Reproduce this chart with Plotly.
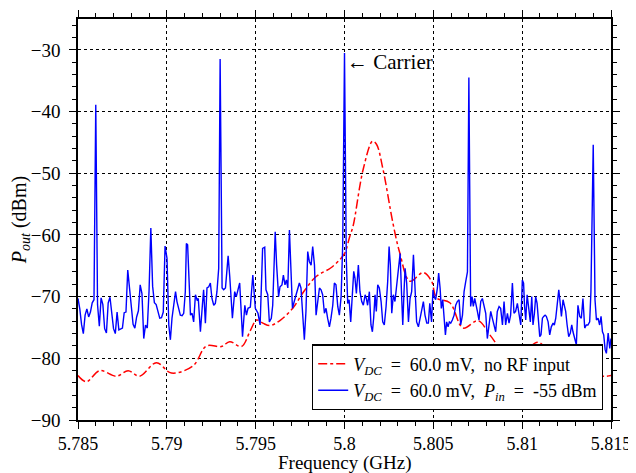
import plotly.graph_objects as go

# ---------------- data ----------------
# Red: V_DC = 60.0 mV, no RF input (frequency in MHz, power in dBm)
red_mhz = [5785.0, 5785.47, 5786.22, 5787.16, 5787.82, 5788.47, 5789.41, 5790.26, 5791.48,
           5792.23, 5793.07, 5793.54, 5794.2, 5794.7, 5795.05, 5795.4, 5795.8, 5796.4,
           5797.11, 5797.7, 5798.42, 5799.2, 5799.74, 5800.02, 5800.3, 5800.48, 5801.05,
           5801.58, 5801.8, 5802.17, 5802.74, 5803.11, 5803.68, 5804.43, 5804.9, 5805.18,
           5805.93, 5806.68, 5807.52, 5808.18, 5808.93, 5809.68, 5810.9, 5811.67, 5812.22,
           5812.69, 5813.53, 5814.56, 5815.0]
red_dbm = [-82.8, -83.8, -82.0, -82.9, -82.0, -82.9, -80.7, -82.4, -81.2,
           -78.0, -78.1, -77.3, -78.1, -75.5, -73.8, -74.3, -74.7, -73.8,
           -71.8, -69.2, -66.7, -65.4, -64.0, -62.9, -60.2, -58.6, -49.4,
           -44.8, -45.3, -49.4, -58.3, -62.9, -67.5, -66.1, -67.5, -70.2,
           -71.0, -75.1, -73.9, -76.2, -78.9, -79.9, -77.4, -79.6, -79.7,
           -81.0, -82.0, -82.9, -82.8]

# Blue: V_DC = 60.0 mV, P_in = -55 dBm (frequency in MHz, power in dBm)
blue_mhz = [5785.0, 5785.1, 5785.2, 5785.3, 5785.4, 5785.5, 5785.6, 5785.7, 5785.8, 5785.9,
            5786.0, 5786.1, 5786.2, 5786.3, 5786.4, 5786.5, 5786.6, 5786.7, 5786.8, 5786.9,
            5787.0, 5787.1, 5787.2, 5787.3, 5787.4, 5787.5, 5787.6, 5787.7, 5787.8, 5787.9,
            5788.0, 5788.1, 5788.2, 5788.3, 5788.4, 5788.5, 5788.6, 5788.7, 5788.8, 5788.9,
            5789.0, 5789.1, 5789.2, 5789.3, 5789.4, 5789.5, 5789.6, 5789.7, 5789.8, 5789.9,
            5790.01, 5790.11, 5790.2, 5790.29, 5790.39, 5790.49, 5790.57, 5790.67, 5790.76, 5790.86,
            5790.95, 5791.04, 5791.1, 5791.17, 5791.25, 5791.33, 5791.42, 5791.51, 5791.61, 5791.7,
            5791.77, 5791.89, 5792.0, 5792.07, 5792.17, 5792.26, 5792.36, 5792.45, 5792.54, 5792.64,
            5792.73, 5792.82, 5792.92, 5793.0, 5793.11, 5793.2, 5793.3, 5793.45, 5793.54, 5793.69,
            5793.82, 5793.91, 5794.1, 5794.26, 5794.39, 5794.48, 5794.57, 5794.7, 5794.84, 5794.98,
            5795.13, 5795.25, 5795.39, 5795.51, 5795.58, 5795.68, 5795.77, 5795.88, 5795.96, 5796.1,
            5796.18, 5796.29, 5796.37, 5796.48, 5796.56, 5796.65, 5796.73, 5796.81, 5796.9, 5796.99,
            5797.07, 5797.17, 5797.27, 5797.36, 5797.46, 5797.55, 5797.65, 5797.74, 5797.83, 5797.93,
            5798.02, 5798.12, 5798.21, 5798.31, 5798.4, 5798.49, 5798.59, 5798.68, 5798.77, 5798.87,
            5798.96, 5799.05, 5799.15, 5799.24, 5799.34, 5799.43, 5799.52, 5799.62, 5799.71, 5799.81,
            5799.9, 5800.0, 5800.1, 5800.18, 5800.26, 5800.35, 5800.44, 5800.52, 5800.59, 5800.67,
            5800.78, 5800.87, 5800.97, 5801.06, 5801.16, 5801.23, 5801.3, 5801.4, 5801.49, 5801.57,
            5801.64, 5801.72, 5801.79, 5801.87, 5801.96, 5802.06, 5802.15, 5802.24, 5802.34, 5802.43,
            5802.51, 5802.58, 5802.66, 5802.75, 5802.84, 5802.94, 5803.03, 5803.13, 5803.22, 5803.28,
            5803.35, 5803.41, 5803.5, 5803.6, 5803.69, 5803.78, 5803.88, 5803.97, 5804.06, 5804.16,
            5804.25, 5804.35, 5804.44, 5804.53, 5804.63, 5804.72, 5804.8, 5804.9, 5804.98, 5805.04,
            5805.13, 5805.23, 5805.3, 5805.38, 5805.45, 5805.53, 5805.6, 5805.68, 5805.75, 5805.83,
            5805.9, 5805.98, 5806.07, 5806.17, 5806.26, 5806.35, 5806.45, 5806.54, 5806.64, 5806.73,
            5806.82, 5806.92, 5807.0, 5807.1, 5807.18, 5807.25, 5807.33, 5807.4, 5807.48, 5807.57,
            5807.67, 5807.76, 5807.85, 5807.95, 5808.04, 5808.14, 5808.23, 5808.32, 5808.42, 5808.51,
            5808.6, 5808.7, 5808.79, 5808.89, 5808.98, 5809.07, 5809.17, 5809.26, 5809.35, 5809.45,
            5809.54, 5809.63, 5809.73, 5809.82, 5809.92, 5810.01, 5810.08, 5810.13, 5810.2, 5810.28,
            5810.37, 5810.46, 5810.54, 5810.61, 5810.69, 5810.76, 5810.84, 5810.91, 5810.99, 5811.06,
            5811.14, 5811.21, 5811.29, 5811.36, 5811.46, 5811.55, 5811.64, 5811.74, 5811.81, 5811.89,
            5811.98, 5812.06, 5812.13, 5812.21, 5812.3, 5812.38, 5812.45, 5812.53, 5812.62, 5812.71,
            5812.79, 5812.86, 5812.96, 5813.05, 5813.14, 5813.24, 5813.33, 5813.42, 5813.52, 5813.61,
            5813.7, 5813.8, 5813.87, 5814.0, 5814.1, 5814.18, 5814.27, 5814.36, 5814.44, 5814.52,
            5814.59, 5814.67, 5814.74, 5814.84, 5814.93, 5815.0]
blue_dbm = [-70.3, -72.0, -74.5, -76.0, -73.0, -72.0, -73.3, -72.5, -71.0, -70.5,
            -38.9, -71.3, -74.8, -70.2, -71.3, -75.2, -75.9, -71.0, -70.1, -73.2,
            -75.2, -76.0, -72.5, -75.4, -75.2, -75.1, -72.6, -72.5, -65.7, -68.8,
            -72.2, -74.5, -75.1, -73.3, -72.3, -68.1, -69.5, -76.8, -74.6, -75.1,
            -69.0, -58.9, -68.3, -71.0, -71.3, -72.6, -73.5, -73.4, -72.5, -61.8,
            -63.8, -74.6, -77.0, -73.5, -70.8, -69.2, -70.8, -71.9, -73.0, -73.1,
            -72.7, -69.2, -61.4, -61.6, -69.2, -73.0, -72.7, -74.1, -69.7, -70.5,
            -70.3, -75.7, -71.4, -68.9, -74.3, -68.6, -68.4, -67.8, -70.3, -71.4,
            -71.1, -69.2, -65.4, -31.5, -68.6, -68.9, -68.6, -63.4, -66.7, -73.5,
            -69.2, -70.0, -67.8, -76.5, -71.4, -73.0, -71.9, -71.7, -66.5, -71.9,
            -72.7, -74.6, -62.2, -62.0, -68.9, -69.7, -74.1, -73.5, -71.4, -59.5,
            -64.9, -70.0, -68.4, -68.1, -66.5, -68.1, -67.3, -68.6, -59.2, -67.6,
            -71.9, -70.8, -69.7, -68.9, -67.8, -68.6, -72.7, -77.0, -72.4, -62.7,
            -64.3, -64.9, -61.9, -64.9, -73.0, -71.1, -68.6, -68.9, -69.7, -72.7,
            -71.9, -73.5, -74.9, -73.5, -71.4, -67.8, -68.1, -71.6, -73.0, -70.0,
            -61.6, -30.5, -63.8, -71.1, -70.5, -74.1, -69.2, -65.9, -67.0, -69.5,
            -64.9, -69.2, -70.8, -71.4, -69.7, -70.3, -71.4, -69.2, -74.6, -75.7,
            -73.5, -69.7, -72.4, -68.1, -68.6, -70.8, -74.1, -74.6, -71.6, -67.6,
            -61.9, -64.9, -72.7, -69.7, -70.8, -67.8, -65.9, -63.0, -70.3, -74.6,
            -69.2, -65.4, -67.8, -74.1, -70.3, -69.2, -63.2, -70.3, -74.1, -74.9,
            -73.5, -71.9, -70.8, -73.0, -74.3, -74.3, -71.1, -74.1, -68.9, -70.0,
            -70.5, -68.6, -66.2, -68.6, -71.9, -70.5, -73.0, -76.2, -74.1, -74.9,
            -74.1, -74.3, -73.8, -73.0, -71.4, -70.8, -70.5, -74.6, -73.0, -69.2,
            -67.6, -66.0, -34.5, -71.6, -70.0, -71.6, -70.3, -71.1, -72.4, -73.8,
            -70.8, -70.3, -71.4, -72.7, -76.8, -74.1, -72.4, -73.5, -74.6, -75.7,
            -72.4, -71.6, -71.9, -74.6, -70.8, -74.6, -72.7, -74.3, -73.0, -67.8,
            -72.7, -72.4, -71.1, -73.0, -74.6, -67.3, -67.8, -71.4, -73.8, -69.7,
            -71.9, -74.1, -70.0, -74.6, -72.7, -70.0, -71.1, -73.5, -76.5, -76.2,
            -73.5, -73.2, -73.0, -73.2, -74.1, -76.2, -74.9, -74.3, -74.6, -73.5,
            -71.4, -68.9, -70.8, -73.2, -70.5, -71.9, -72.4, -74.6, -76.5, -75.9,
            -74.6, -75.7, -77.0, -77.8, -71.4, -73.2, -73.5, -70.3, -75.1, -74.6,
            -74.6, -74.1, -69.2, -45.4, -70.5, -73.8, -73.5, -74.6, -73.2, -75.7,
            -76.2, -78.6, -79.2, -75.9, -78.4, -76.8]

x_tick_vals = [5.785, 5.79, 5.795, 5.8, 5.805, 5.81, 5.815]
x_tick_text = ["5.785", "5.79", "5.795", "5.8", "5.805", "5.81", "5.815"]
y_tick_vals = [-90, -80, -70, -60, -50, -40, -30]

red_ghz = [f / 1000.0 for f in red_mhz]
blue_ghz = [f / 1000.0 for f in blue_mhz]

FONT = "Liberation Serif"
SP = "&nbsp;"

fig = go.Figure()
fig.add_trace(go.Scatter(
    x=red_ghz, y=red_dbm, mode="lines", line_shape="spline",
    line=dict(color="#ff0000", width=1.5, dash="dashdot"),
    name=f"<i>V</i><sub><i>DC</i></sub>{SP}{SP}={SP}{SP}60.0{SP}mV,{SP}{SP}no{SP}RF{SP}input"))
fig.add_trace(go.Scatter(
    x=blue_ghz, y=blue_dbm, mode="lines",
    line=dict(color="#0000ff", width=1.4),
    name=f"<i>V</i><sub><i>DC</i></sub>{SP}{SP}={SP}{SP}60.0{SP}mV,{SP}{SP}<i>P</i><sub><i>in</i></sub>{SP}{SP}={SP}{SP}-55{SP}dBm"))

axis_common = dict(
    showline=True, linecolor="black", linewidth=1.5, mirror="allticks",
    ticks="outside", tickcolor="black", ticklen=7, tickwidth=1.2,
    showgrid=True, gridcolor="black", griddash="dot", gridwidth=1,
    zeroline=False, automargin=False,
)

fig.update_xaxes(
    range=[5.785, 5.815], tickmode="array", tickvals=x_tick_vals, ticktext=x_tick_text,
    ticklabelstandoff=0, tickfont=dict(family=FONT, size=18, color="black"),
    minor=dict(dtick=0.001, ticks="outside", ticklen=4, tickcolor="black", showgrid=False),
    **axis_common)
fig.update_yaxes(
    range=[-90, -25], tickmode="array", tickvals=y_tick_vals,
    ticklabelstandoff=5, tickfont=dict(family=FONT, size=19, color="black"),
    minor=dict(dtick=2, ticks="outside", ticklen=4, tickcolor="black", showgrid=False),
    title=dict(text="<i>P</i><sub><i>out</i></sub> (dBm)",
               font=dict(family=FONT, size=20, color="black"), standoff=7),
    **axis_common)

# x-axis title placed just below the tick labels
fig.add_annotation(x=0.5, y=-0.108, xref="paper", yref="paper", text="Frequency (GHz)",
                   showarrow=False, xanchor="center", yanchor="middle",
                   font=dict(family=FONT, size=19, color="black"))

fig.add_annotation(x=5.8, y=-31.9, xref="x", yref="y", text="\u2190 Carrier",
                   showarrow=False, xanchor="left", yanchor="middle", xshift=0,
                   font=dict(family=FONT, size=21, color="black"))

# The page body adds an 8px offset, so the figure is sized to fill the window from there.
fig.update_layout(
    width=628, height=465,
    margin=dict(l=70, r=25, t=11, b=53, autoexpand=False),
    paper_bgcolor="white", plot_bgcolor="white",
    font=dict(family=FONT, size=19, color="black"),
    showlegend=True,
    legend=dict(x=0.985, y=0.024, xanchor="right", yanchor="bottom",
                bgcolor="white", bordercolor="black", borderwidth=1.2,
                font=dict(family=FONT, size=18, color="black"),
                tracegroupgap=0, itemwidth=30),
)

fig.write_html("out.html")
